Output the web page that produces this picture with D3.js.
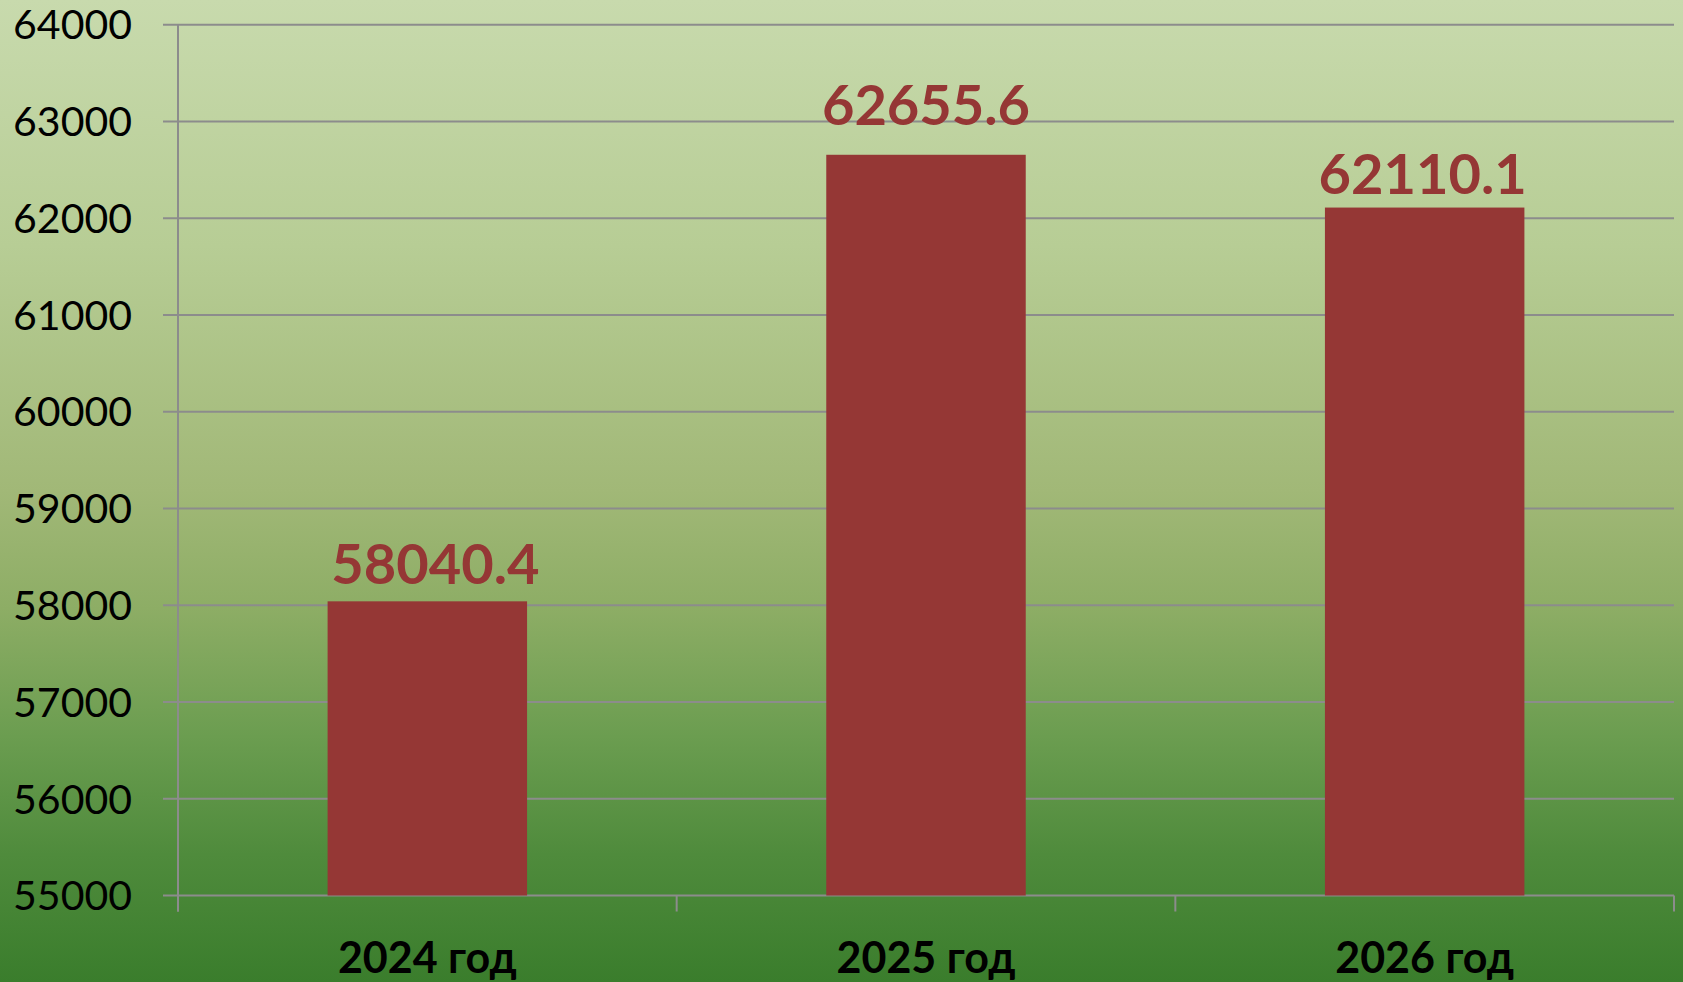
<!DOCTYPE html>
<html>
<head>
<meta charset="utf-8">
<script src="https://cdn.jsdelivr.net/npm/d3@7"></script>
<style>
  html, body { margin: 0; padding: 0; overflow: hidden; }
  svg { display: block; }
</style>
</head>
<body>
<div id="chart"></div>
<script>
// chart data
var years = ["2024 год", "2025 год", "2026 год"];
var values = [58040.4, 62655.6, 62110.1];
var yTicks = [55000, 56000, 57000, 58000, 59000, 60000, 61000, 62000, 63000, 64000];

// label nudges (px) as placed in the original
var labelLift = [17, 30, 14];
var labelShift = [8, 0, -2];

var width = 1683, height = 982;
var margin = { top: 24.7, right: 9, bottom: 86.5, left: 178 };

var svg = d3.select("#chart").append("svg")
    .attr("width", width)
    .attr("height", height);

// background gradient light green -> dark green
var grad = svg.append("defs").append("linearGradient")
    .attr("id", "bg")
    .attr("x1", 0).attr("y1", 0).attr("x2", 0).attr("y2", 1);
[["0%", "#c8daad"], ["25%", "#b7cd95"], ["50%", "#a1b877"], ["62%", "#8dad65"],
 ["75%", "#6b9d50"], ["87%", "#4f8b3c"], ["100%", "#3a7d2c"]].forEach(function(s) {
    grad.append("stop").attr("offset", s[0]).attr("stop-color", s[1]);
});
svg.append("rect").attr("width", width).attr("height", height).attr("fill", "url(#bg)");

var x = d3.scaleBand()
    .domain(years)
    .range([margin.left, width - margin.right])
    .paddingInner(0.6)
    .paddingOuter(0.3);

var y = d3.scaleLinear()
    .domain([55000, 64000])
    .range([height - margin.bottom, margin.top]);

// horizontal gridlines (with outer tick on left)
svg.append("g")
    .selectAll("line")
    .data(yTicks)
    .enter().append("line")
    .attr("x1", margin.left - 15)
    .attr("x2", width - margin.right)
    .attr("y1", function(d) { return y(d); })
    .attr("y2", function(d) { return y(d); })
    .attr("stroke", "#8c8c8c")
    .attr("stroke-width", 2);

// y tick labels
svg.append("g")
    .selectAll("text")
    .data(yTicks)
    .enter().append("text")
    .attr("x", 132)
    .attr("y", function(d) { return y(d); })
    .attr("dy", "0.36em")
    .attr("text-anchor", "end")
    .attr("font-family", "Lato, sans-serif")
    .attr("font-size", 41)
    .attr("fill", "#000")
    .text(function(d) { return d; });

// vertical axis line
svg.append("line")
    .attr("x1", margin.left).attr("x2", margin.left)
    .attr("y1", y(64000)).attr("y2", y(55000) + 16)
    .attr("stroke", "#8c8c8c")
    .attr("stroke-width", 2);

// category boundary ticks on x axis
var step = (width - margin.right - margin.left) / years.length;
svg.append("g")
    .selectAll("line")
    .data(d3.range(years.length + 1))
    .enter().append("line")
    .attr("x1", function(i) { return margin.left + i * step; })
    .attr("x2", function(i) { return margin.left + i * step; })
    .attr("y1", y(55000))
    .attr("y2", y(55000) + 16)
    .attr("stroke", "#8c8c8c")
    .attr("stroke-width", 2);

// bars
svg.append("g")
    .selectAll("rect")
    .data(values)
    .enter().append("rect")
    .attr("x", function(d, i) { return x(years[i]); })
    .attr("y", function(d) { return y(d); })
    .attr("width", x.bandwidth())
    .attr("height", function(d) { return y(55000) - y(d); })
    .attr("fill", "#953735");

// value labels
svg.append("g")
    .selectAll("text")
    .data(values)
    .enter().append("text")
    .attr("x", function(d, i) { return x(years[i]) + x.bandwidth() / 2 + labelShift[i]; })
    .attr("y", function(d, i) { return y(d) - labelLift[i]; })
    .attr("text-anchor", "middle")
    .attr("font-family", "Lato, sans-serif")
    .attr("font-weight", "bold")
    .attr("font-size", 56)
    .attr("fill", "#953735")
    .text(function(d) { return d.toFixed(1); });

// category labels
svg.append("g")
    .selectAll("text")
    .data(years)
    .enter().append("text")
    .attr("x", function(d) { return x(d) + x.bandwidth() / 2; })
    .attr("y", 972.5)
    .attr("text-anchor", "middle")
    .attr("font-family", "Lato, sans-serif")
    .attr("font-weight", "bold")
    .attr("font-size", 43)
    .attr("fill", "#000")
    .text(function(d) { return d; });
</script>
</body>
</html>
